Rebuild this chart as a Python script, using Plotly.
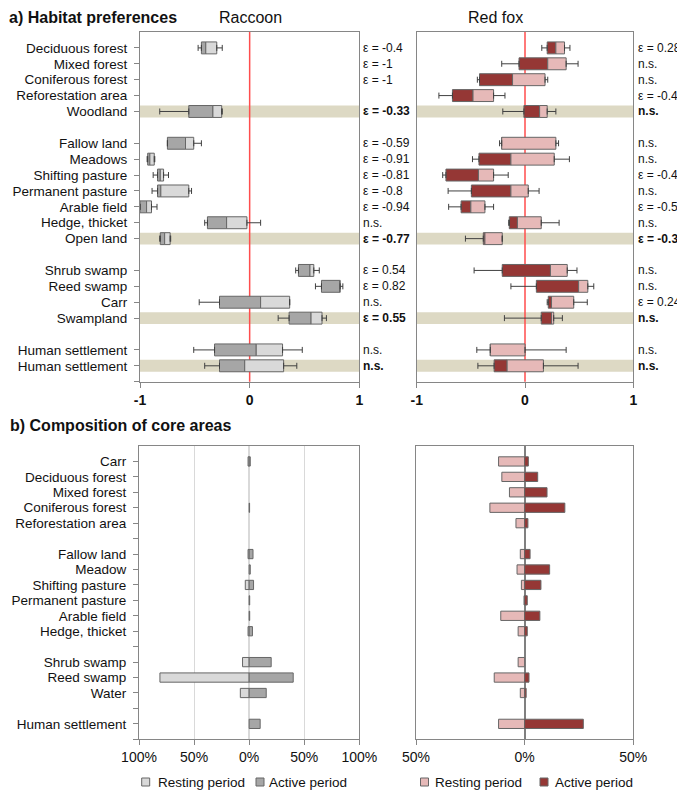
import plotly.graph_objects as go

# the page body keeps an 8 px margin, so all positions are shifted by it
OFF = 8
FW, FH = 685, 791
FONT = "Liberation Sans, Arial, sans-serif"


def px(x):
    return (x - OFF) / FW


def py(y):
    return 1 - (y - OFF) / FH


# ---- a) habitat preferences (box plots of selection index) ----
habitats = ["Deciduous forest", "Mixed forest", "Coniferous forest", "Reforestation area", "Woodland", "",
            "Fallow land", "Meadows", "Shifting pasture", "Permanent pasture", "Arable field",
            "Hedge, thicket", "Open land", "",
            "Shrub swamp", "Reed swamp", "Carr", "Swampland", "",
            "Human settlement", "Human settlement"]
highlight = [4, 12, 17, 20]

rac_low = [-0.47, None, None, None, -0.82, None, -0.75, -0.935, -0.88, -0.89, -1.0, -0.41, -0.82, None,
           0.42, 0.60, -0.46, 0.26, None, -0.51, -0.41]
rac_q1 = [-0.44, None, None, None, -0.555, None, -0.75, -0.93, -0.84, -0.84, -1.0, -0.385, -0.815, None,
          0.445, 0.655, -0.275, 0.36, None, -0.32, -0.275]
rac_med = [-0.40, None, None, None, -0.335, None, -0.585, -0.91, -0.815, -0.81, -0.94, -0.21, -0.775, None,
           0.55, 0.82, 0.10, 0.56, None, 0.06, -0.045]
rac_q3 = [-0.30, None, None, None, -0.255, None, -0.51, -0.87, -0.785, -0.555, -0.895, -0.025, -0.725, None,
          0.585, 0.826, 0.365, 0.66, None, 0.30, 0.31]
rac_high = [-0.25, None, None, None, -0.25, None, -0.44, -0.865, -0.74, -0.53, -0.845, 0.10, -0.72, None,
            0.635, 0.85, 0.365, 0.70, None, 0.48, 0.43]

fox_low = [0.155, -0.215, -0.44, -0.795, -0.205, None, -0.235, -0.485, -0.76, -0.71, -0.705, -0.15, -0.55, None,
           -0.47, -0.13, 0.205, -0.19, None, -0.445, -0.435]
fox_q1 = [0.205, -0.055, -0.42, -0.67, -0.01, None, -0.215, -0.425, -0.73, -0.495, -0.59, -0.145, -0.385, None,
          -0.21, 0.105, 0.215, 0.15, None, -0.32, -0.285]
fox_med = [0.285, 0.21, -0.115, -0.48, 0.135, None, -0.215, -0.13, -0.43, -0.13, -0.50, -0.07, -0.37, None,
           0.235, 0.495, 0.245, 0.245, None, -0.32, -0.165]
fox_q3 = [0.365, 0.38, 0.185, -0.29, 0.205, None, 0.285, 0.27, -0.29, 0.03, -0.37, 0.15, -0.21, None,
          0.39, 0.58, 0.45, 0.265, None, 0.0, 0.17]
fox_high = [0.415, 0.49, 0.21, -0.185, 0.285, None, 0.31, 0.41, -0.155, 0.13, -0.29, 0.315, -0.21, None,
            0.48, 0.635, 0.575, 0.345, None, 0.38, 0.49]

rac_eps = ["ε = -0.4", "ε = -1", "ε = -1", "", "ε = -0.33", "",
           "ε = -0.59", "ε = -0.91", "ε = -0.81", "ε = -0.8", "ε = -0.94", "n.s.", "ε = -0.77", "",
           "ε = 0.54", "ε = 0.82", "n.s.", "ε = 0.55", "", "n.s.", "n.s."]
fox_eps = ["ε = 0.28", "n.s.", "n.s.", "ε = -0.48", "n.s.", "",
           "n.s.", "n.s.", "ε = -0.43", "n.s.", "ε = -0.5", "n.s.", "ε = -0.37", "",
           "n.s.", "n.s.", "ε = 0.24", "n.s.", "", "n.s.", "n.s."]

# ---- b) composition of core areas (% resting / active period) ----
core_labels = ["Carr", "Deciduous forest", "Mixed forest", "Coniferous forest", "Reforestation area", "",
               "Fallow land", "Meadow", "Shifting pasture", "Permanent pasture", "Arable field", "Hedge, thicket", "",
               "Shrub swamp", "Reed swamp", "Water", "", "Human settlement"]
rac_rest = [1, None, None, None, None, None, 1, None, 3.5, None, None, 1, None, 6, 81, 8, None, None]
rac_active = [1, None, None, 0.4, None, None, 3.5, 1, 4, 0.5, 0.5, 3, None, 20, 40, 15.5, None, 10]
fox_rest = [12, 10.5, 7, 16, 4, None, 2, 3.5, 1.5, 0.3, 11, 3, None, 3, 14, 2, None, 12]
fox_active = [1.7, 6, 10.3, 18.5, 1.5, None, 2.5, 11.5, 7.5, 1.2, 7, 1.2, None, None, 2, 0.7, None, 27]

GREY_D, GREY_L = "#A6A6A6", "#D9D9D9"
RED_D, RED_L = "#953735", "#E6B9B8"
EDGE = "#666666"
BAND = "#DDD9C4"
AX = "#868686"

fig = go.Figure()
rows = list(range(len(habitats)))


def add_boxes(xa, ya, low, q1, med, q3, high, dark, light):
    d = [None if a is None else b - a for a, b in zip(q1, med)]
    l = [None if a is None else b - a for a, b in zip(med, q3)]
    fig.add_trace(go.Bar(y=rows, x=d, base=q1, orientation="h", width=0.75, xaxis=xa, yaxis=ya,
                         marker=dict(color=dark, line=dict(color=EDGE, width=1)), showlegend=False))
    fig.add_trace(go.Bar(y=rows, x=l, base=med, orientation="h", width=0.75, xaxis=xa, yaxis=ya,
                         marker=dict(color=light, line=dict(color=EDGE, width=1)), showlegend=False))
    wl = [None if a is None else b - a for a, b in zip(low, q1)]
    wh = [None if a is None else b - a for a, b in zip(q3, high)]
    zeros = [0] * len(rows)
    fig.add_trace(go.Scatter(y=rows, x=q1, mode="markers", xaxis=xa, yaxis=ya, showlegend=False,
                             marker=dict(size=1, color="rgba(0,0,0,0)"),
                             error_x=dict(type="data", symmetric=False, array=zeros, arrayminus=wl,
                                          color="#404040", thickness=1, width=3)))
    fig.add_trace(go.Scatter(y=rows, x=q3, mode="markers", xaxis=xa, yaxis=ya, showlegend=False,
                             marker=dict(size=1, color="rgba(0,0,0,0)"),
                             error_x=dict(type="data", symmetric=False, array=wh, arrayminus=zeros,
                                          color="#404040", thickness=1, width=3)))


add_boxes("x", "y", rac_low, rac_q1, rac_med, rac_q3, rac_high, GREY_D, GREY_L)
add_boxes("x2", "y2", fox_low, fox_q1, fox_med, fox_q3, fox_high, RED_D, RED_L)

crow = list(range(len(core_labels)))
for xa, ya, rest, act, cl, cd in [("x3", "y3", rac_rest, rac_active, GREY_L, GREY_D),
                                  ("x4", "y4", fox_rest, fox_active, RED_L, RED_D)]:
    fig.add_trace(go.Bar(y=crow, x=[None if v is None else -v for v in rest], orientation="h", width=0.6,
                         xaxis=xa, yaxis=ya, marker=dict(color=cl, line=dict(color=EDGE, width=1)),
                         showlegend=False))
    fig.add_trace(go.Bar(y=crow, x=act, orientation="h", width=0.6, xaxis=xa, yaxis=ya,
                         marker=dict(color=cd, line=dict(color=EDGE, width=1)), showlegend=False))

shapes = []
for xr, yr in [("x", "y"), ("x2", "y2")]:
    for r in highlight:
        shapes.append(dict(type="rect", xref=xr + " domain", yref=yr, x0=0, x1=1, y0=r - 0.375, y1=r + 0.375,
                           fillcolor=BAND, line=dict(width=0), layer="below"))
    shapes.append(dict(type="line", xref=xr, yref=yr + " domain", x0=0, x1=0, y0=0, y1=1,
                       line=dict(color="#FF4D4D", width=1.5), layer="below"))

annotations = []
for eps, xpos, yr in [(rac_eps, 361, "y"), (fox_eps, 636, "y2")]:
    for i, t in enumerate(eps):
        if not t:
            continue
        annotations.append(dict(text=t, x=px(xpos), xref="paper", y=i, yref=yr, xanchor="left",
                                showarrow=False, font=dict(size=12, color="#111",
                                                           weight="bold" if i in highlight else "normal")))

annotations += [
    dict(text="a) Habitat preferences", x=0, y=1, xref="paper", yref="paper", xanchor="left",
         yanchor="top", borderpad=0, showarrow=False, font=dict(size=16, weight="bold", color="#111")),
    dict(text="b) Composition of core areas", x=0, y=py(426), xref="paper", yref="paper",
         xanchor="left", yanchor="middle", showarrow=False, font=dict(size=16, weight="bold", color="#111")),
    dict(text="Raccoon", x=px(250), y=py(17), xref="paper", yref="paper", yanchor="middle",
         showarrow=False, font=dict(size=16, color="#111")),
    dict(text="Red fox", x=px(525), y=py(17), xref="paper", yref="paper", yanchor="middle",
         showarrow=False, font=dict(size=16, color="#111")),
]

# legends below each lower panel
for sx, tx, col, name in [(141.7, 156, GREY_L, "Resting period"), (256, 266.7, GREY_D, "Active period"),
                          (420.5, 433.3, RED_L, "Resting period"), (540, 553.3, RED_D, "Active period")]:
    shapes.append(dict(type="rect", xref="paper", yref="paper", x0=px(sx), x1=px(sx + 8),
                       y0=py(786), y1=py(778), fillcolor=col, line=dict(color=EDGE, width=1)))
    annotations.append(dict(text=name, x=px(tx), y=py(782), xref="paper", yref="paper", xanchor="left",
                            yanchor="middle", showarrow=False, font=dict(size=13.5, color="#111")))

top_y = [py(381.7), py(32)]
bot_y = [py(739.3), py(446)]
lab_rows = [i for i, t in enumerate(habitats) if t] + [21]
lab_text = [t for t in habitats if t] + [""]
core_rows = crow + [18]
core_text = core_labels + [""]

axis_common = dict(showline=True, linecolor=AX, linewidth=1, mirror=True, showgrid=False, zeroline=False,
                   ticks="outside", ticklen=5, tickcolor=AX, automargin=False)
plain_y = dict(showline=True, linecolor=AX, mirror=True, showgrid=False, zeroline=False,
               showticklabels=False, ticks="", automargin=False)

fig.update_layout(
    width=FW, height=FH, margin=dict(l=0, r=0, t=0, b=0),
    paper_bgcolor="white", plot_bgcolor="white",
    font=dict(family=FONT, size=14, color="#111"),
    barmode="overlay", showlegend=False,
    shapes=shapes, annotations=annotations,
    xaxis=dict(domain=[px(140), px(359.3)], anchor="y", range=[-1, 1], tickvals=[-1, 0, 1],
               ticktext=["-1", "0", "1"], tickfont=dict(size=14, weight="bold"), **axis_common),
    yaxis=dict(domain=top_y, anchor="x", range=[21, -1], tickvals=lab_rows, ticktext=lab_text,
               tickfont=dict(size=13.5), ticklabelstandoff=4, **axis_common),
    xaxis2=dict(domain=[px(416.7), px(633.3)], anchor="y2", range=[-1, 1], tickvals=[-1, 0, 1],
                ticktext=["-1", "0", "1"], tickfont=dict(size=14, weight="bold"), **axis_common),
    yaxis2=dict(domain=top_y, anchor="x2", range=[21, -1], **plain_y),
    xaxis3=dict(domain=[px(139), px(359.3)], anchor="y3", range=[-100, 100], tickvals=[-100, -50, 0, 50, 100],
                ticktext=["100%", "50%", "0%", "50%", "100%"], tickfont=dict(size=14),
                showline=True, linecolor=AX, mirror=True, showgrid=True, gridcolor="#D9D9D9",
                zeroline=True, zerolinecolor="#D9D9D9", ticks="outside", ticklen=5, tickcolor=AX,
                automargin=False),
    yaxis3=dict(domain=bot_y, anchor="x3", range=[18, -1], tickvals=core_rows, ticktext=core_text,
                tickfont=dict(size=13.5), ticklabelstandoff=4, **axis_common),
    xaxis4=dict(domain=[px(416), px(633.3)], anchor="y4", range=[-50, 50], tickvals=[-50, 0, 50],
                ticktext=["50%", "0%", "50%"], tickfont=dict(size=14),
                showline=True, linecolor=AX, mirror=True, showgrid=False,
                zeroline=True, zerolinecolor="#808080", ticks="outside", ticklen=5, tickcolor=AX,
                automargin=False),
    yaxis4=dict(domain=bot_y, anchor="x4", range=[18, -1], **plain_y),
)

fig.write_html("out.html")
